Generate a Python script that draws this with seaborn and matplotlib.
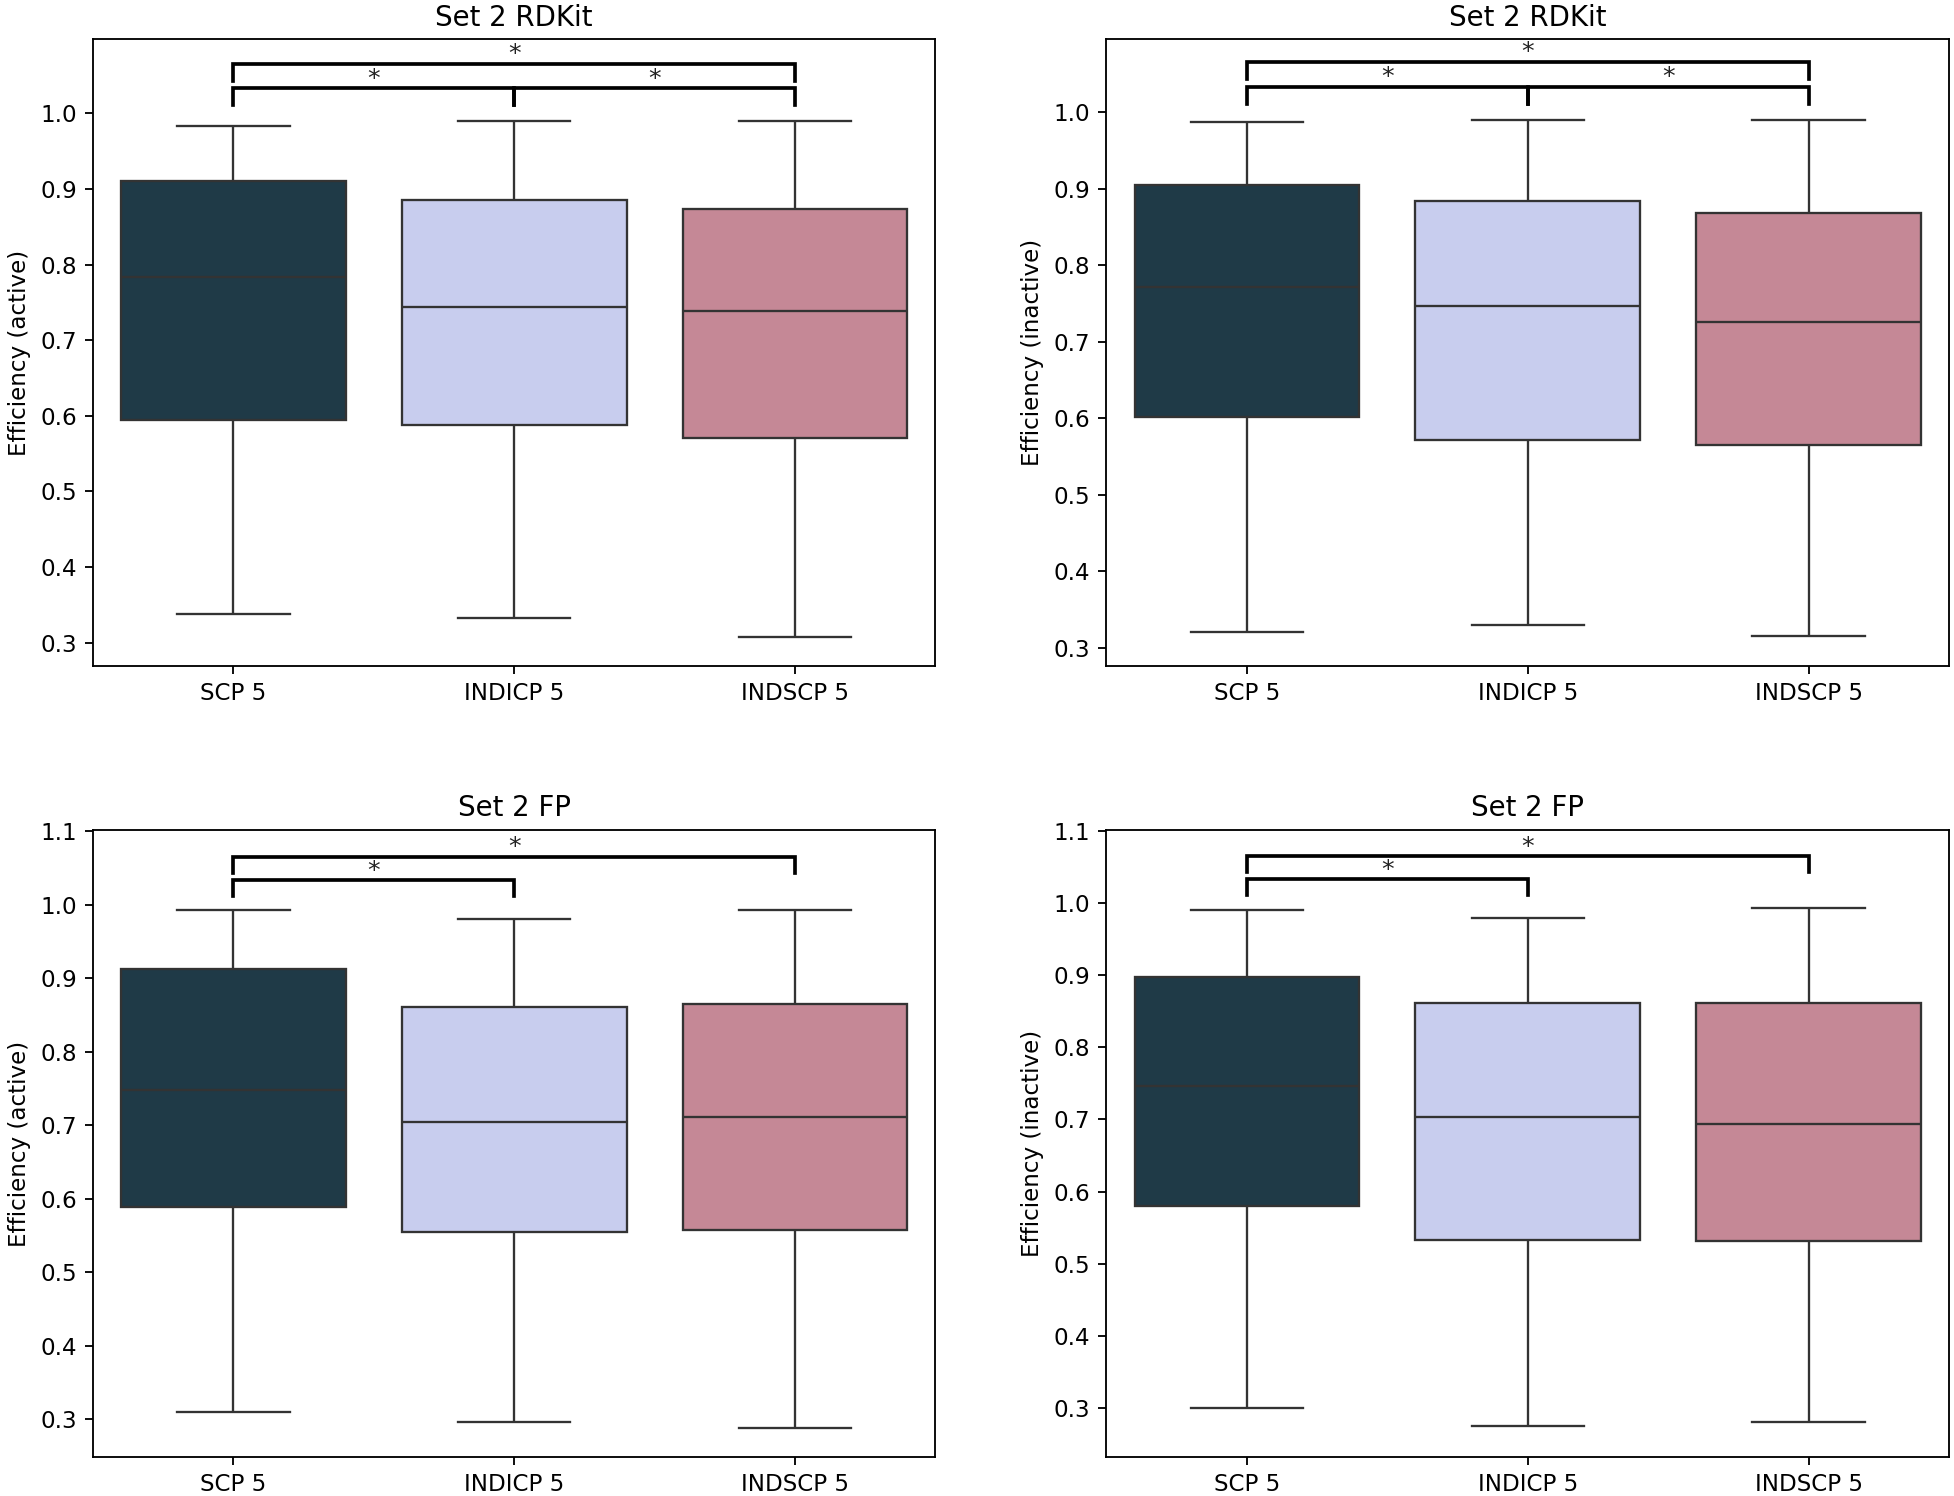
import matplotlib
matplotlib.use("Agg")
import matplotlib.pyplot as plt
import seaborn as sns
import pandas as pd

# ── Data: five-number summaries (min, q1, median, q3, max) ──
methods = ["SCP 5", "INDICP 5", "INDSCP 5"]
colors = ["#1F3A47", "#C8CDEE", "#C58896"]

rdkit_active = {
    "SCP 5":    [0.338, 0.595, 0.784, 0.911, 0.984],
    "INDICP 5": [0.333, 0.588, 0.744, 0.885, 0.990],
    "INDSCP 5": [0.308, 0.571, 0.739, 0.873, 0.990],
}
rdkit_inactive = {
    "SCP 5":    [0.320, 0.601, 0.771, 0.904, 0.987],
    "INDICP 5": [0.329, 0.572, 0.747, 0.884, 0.989],
    "INDSCP 5": [0.315, 0.565, 0.725, 0.868, 0.989],
}
fp_active = {
    "SCP 5":    [0.310, 0.589, 0.748, 0.912, 0.992],
    "INDICP 5": [0.296, 0.555, 0.704, 0.861, 0.980],
    "INDSCP 5": [0.289, 0.558, 0.711, 0.865, 0.992],
}
fp_inactive = {
    "SCP 5":    [0.300, 0.580, 0.747, 0.897, 0.991],
    "INDICP 5": [0.275, 0.533, 0.704, 0.861, 0.979],
    "INDSCP 5": [0.281, 0.531, 0.693, 0.861, 0.993],
}

# significance brackets: (group a, group b, level) -> level 0 = lower, 1 = upper
rdkit_pairs = [(0, 1, 0), (1, 2, 0), (0, 2, 1)]
fp_pairs = [(0, 1, 0), (0, 2, 1)]

panels = [
    ("Set 2 RDKit", "Efficiency (active)", rdkit_active, rdkit_pairs, (0.269, 1.098)),
    ("Set 2 RDKit", "Efficiency (inactive)", rdkit_inactive, rdkit_pairs, (0.276, 1.095)),
    ("Set 2 FP", "Efficiency (active)", fp_active, fp_pairs, (0.249, 1.101)),
    ("Set 2 FP", "Efficiency (inactive)", fp_inactive, fp_pairs, (0.232, 1.101)),
]

# bracket geometry (data units)
LEVEL_Y = [(1.011, 1.033), (1.043, 1.065)]
STAR_DY = 0.013


def to_long(stats: dict) -> pd.DataFrame:
    rows = [(m, v) for m in methods for v in stats[m]]
    return pd.DataFrame(rows, columns=["method", "value"])


def draw_panel(ax, title, ylabel, stats, pairs, ylim):
    df = to_long(stats)
    sns.boxplot(data=df, x="method", y="value", hue="method", order=methods,
                hue_order=methods, palette=colors, saturation=1, width=0.8,
                whis=(0, 100), linecolor="#333333", linewidth=1.0,
                legend=False, ax=ax)
    for a, b, lvl in pairs:
        y0, y1 = LEVEL_Y[lvl]
        ax.plot([a, a, b, b], [y0, y1, y1, y0], color="black", lw=1.6,
                solid_joinstyle="miter")
        ax.text((a + b) / 2, y1 + STAR_DY, "*", ha="center", va="center",
                fontsize=11, color="#222222")
    ax.set_xlim(-0.5, len(methods) - 0.5)
    ax.set_ylim(*ylim)
    ax.set_title(title, fontsize=12)
    ax.set_ylabel(ylabel, fontsize=10)
    ax.set_xlabel("")
    ax.tick_params(labelsize=10)


fig, axes = plt.subplots(2, 2, figsize=(1954 / 166, 1496 / 166), dpi=166)
plt.subplots_adjust(left=0.0476, right=0.9974, top=0.9737, bottom=0.0261,
                    wspace=0.203, hspace=0.262)

for ax, (title, ylabel, stats, pairs, ylim) in zip(axes.flat, panels):
    draw_panel(ax, title, ylabel, stats, pairs, ylim)

plt.savefig("out.png", dpi=166)
plt.close()
